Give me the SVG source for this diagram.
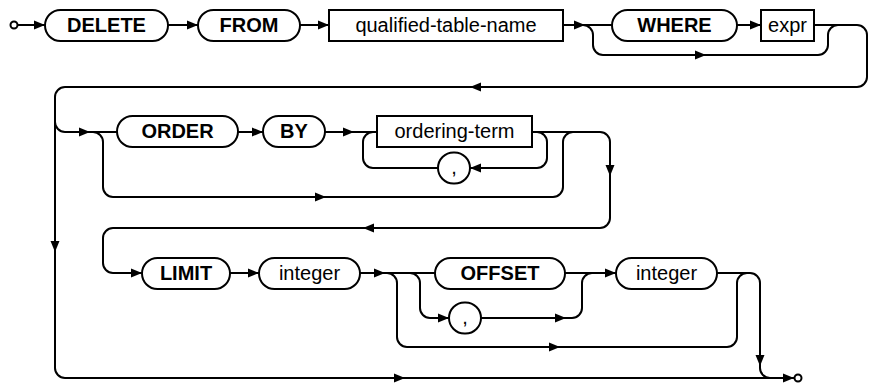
<svg xmlns="http://www.w3.org/2000/svg" width="870" height="386" viewBox="0 0 870 386">
<style>
.ln{fill:none;stroke:#000;stroke-width:2}
.nd{fill:#fff;stroke:#000;stroke-width:2}
.kw{font-family:"Liberation Sans",Arial,sans-serif;font-size:20px;font-weight:bold;text-anchor:middle;fill:#000}
.tx{font-family:"Liberation Sans",Arial,sans-serif;font-size:20px;text-anchor:middle;fill:#000}
.ar{fill:#000;stroke:none}
</style>
<defs>
<polygon id="a" class="ar" points="0,0 -11,-4.5 -11,4.5"/>
</defs>
<g id="connectors">
<circle cx="14" cy="25" r="3.5" class="ln"/>
<path class="ln" d="M18,25 H45 M168,25 H198 M300,25 H329 M563,25 H612 M737,25 H761"/>
<path class="ln" d="M583,25 A10,10 0 0 1 593,35 V45 A10,10 0 0 0 603,55 H818 A10,10 0 0 0 828,45 V35 A10,10 0 0 1 838,25"/>
<path class="ln" d="M814,25 H857 A10,10 0 0 1 867,35 V77 A10,10 0 0 1 857,87 H65 A10,10 0 0 0 55,97 V368 A10,10 0 0 0 65,378 H794"/>
<path class="ln" d="M55,122 A10,10 0 0 0 65,132 H117 M238,132 H263 M325,132 H377"/>
<path class="ln" d="M93,132 A10,10 0 0 1 103,142 V187 A10,10 0 0 0 113,197 H553 A10,10 0 0 0 563,187 V142 A10,10 0 0 1 573,132"/>
<path class="ln" d="M532,132 H537 A10,10 0 0 1 547,142 V158 A10,10 0 0 1 537,168 H470 M438,168 H373 A10,10 0 0 1 363,158 V142 A10,10 0 0 1 373,132"/>
<path class="ln" d="M532,132 H600 A10,10 0 0 1 610,142 V218 A10,10 0 0 1 600,228 H113 A10,10 0 0 0 103,238 V263 A10,10 0 0 0 113,273 H142"/>
<path class="ln" d="M230,273 H259 M360,273 H435 M565,273 H616"/>
<path class="ln" d="M410,273 A10,10 0 0 1 420,283 V308 A10,10 0 0 0 430,318 H449 M481,318 H572 A10,10 0 0 0 582,308 V283 A10,10 0 0 1 592,273"/>
<path class="ln" d="M387,273 A10,10 0 0 1 397,283 V337 A10,10 0 0 0 407,347 H727 A10,10 0 0 0 737,337 V283 A10,10 0 0 1 747,273"/>
<path class="ln" d="M717,273 H750 A10,10 0 0 1 760,283 V368 A10,10 0 0 0 770,378 H794"/>
<circle cx="798" cy="378" r="3.5" class="ln"/>
<use href="#a" x="45" y="25"/>
<use href="#a" x="198" y="25"/>
<use href="#a" x="329" y="25"/>
<use href="#a" x="585" y="25"/>
<use href="#a" x="761" y="25"/>
<use href="#a" x="706" y="55"/>
<use href="#a" transform="translate(470,87) rotate(180)"/>
<use href="#a" transform="translate(55,252) rotate(90)"/>
<use href="#a" x="90" y="132"/>
<use href="#a" x="263" y="132"/>
<use href="#a" x="354" y="132"/>
<use href="#a" transform="translate(470,168) rotate(180)"/>
<use href="#a" x="326" y="197"/>
<use href="#a" transform="translate(610,176) rotate(90)"/>
<use href="#a" transform="translate(363,228) rotate(180)"/>
<use href="#a" x="142" y="273"/>
<use href="#a" x="259" y="273"/>
<use href="#a" x="385" y="273"/>
<use href="#a" x="449" y="318"/>
<use href="#a" x="566" y="318"/>
<use href="#a" x="616" y="273"/>
<use href="#a" x="560" y="347"/>
<use href="#a" transform="translate(760,366) rotate(90)"/>
<use href="#a" x="405" y="378"/>
<use href="#a" x="794" y="378"/>
</g>
<g id="n-delete"><rect class="nd" x="45" y="10" width="123" height="31" rx="15.5"/><text class="kw" x="106.5" y="32">DELETE</text></g>
<g id="n-from"><rect class="nd" x="198" y="10" width="102" height="31" rx="15.5"/><text class="kw" x="249" y="32">FROM</text></g>
<g id="n-qtn"><rect class="nd" x="329" y="10" width="234" height="31"/><text class="tx" x="446" y="32">qualified-table-name</text></g>
<g id="n-where"><rect class="nd" x="612" y="10" width="125" height="31" rx="15.5"/><text class="kw" x="674.5" y="32">WHERE</text></g>
<g id="n-expr"><rect class="nd" x="761" y="10" width="53" height="31"/><text class="tx" x="787.5" y="32">expr</text></g>
<g id="n-order"><rect class="nd" x="117" y="116" width="121" height="31" rx="15.5"/><text class="kw" x="177.5" y="138">ORDER</text></g>
<g id="n-by"><rect class="nd" x="263" y="116" width="62" height="31" rx="15.5"/><text class="kw" x="294" y="138">BY</text></g>
<g id="n-oterm"><rect class="nd" x="377" y="116" width="155" height="31"/><text class="tx" x="454.5" y="138">ordering-term</text></g>
<g id="n-comma1"><rect class="nd" x="438" y="152.5" width="32" height="31" rx="15.5"/><text class="tx" x="454" y="174">,</text></g>
<g id="n-limit"><rect class="nd" x="142" y="258" width="88" height="31" rx="15.5"/><text class="kw" x="186" y="280">LIMIT</text></g>
<g id="n-int1"><rect class="nd" x="259" y="258" width="101" height="31" rx="15.5"/><text class="tx" x="309.5" y="280">integer</text></g>
<g id="n-offset"><rect class="nd" x="435" y="258" width="130" height="31" rx="15.5"/><text class="kw" x="500" y="280">OFFSET</text></g>
<g id="n-comma2"><rect class="nd" x="449" y="302.5" width="32" height="31" rx="15.5"/><text class="tx" x="465" y="324">,</text></g>
<g id="n-int2"><rect class="nd" x="616" y="258" width="101" height="31" rx="15.5"/><text class="tx" x="666.5" y="280">integer</text></g>
</svg>
